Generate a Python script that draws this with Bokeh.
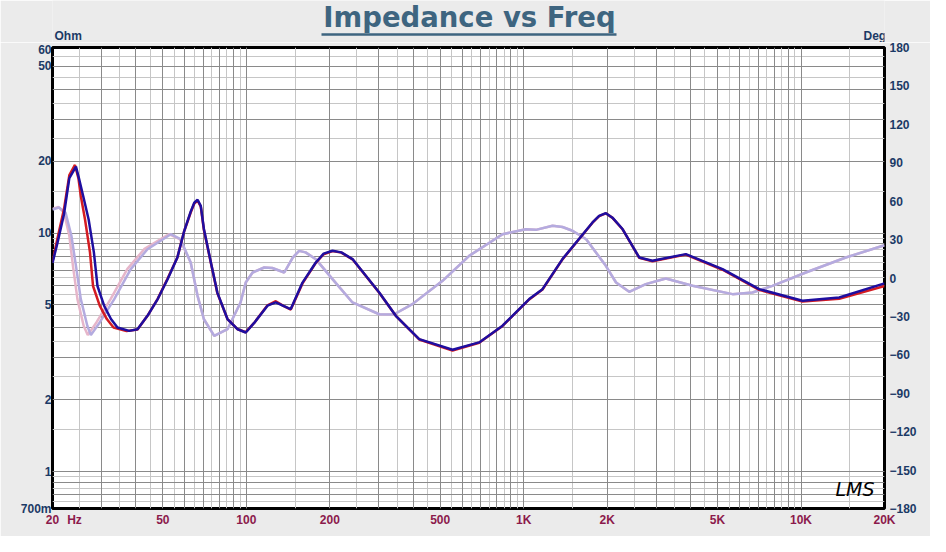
from bokeh.plotting import figure
from bokeh.layouts import column
from bokeh.models import (Range1d, LinearAxis, LinearScale, FixedTicker, Grid, Label)
from bokeh.core.properties import value
from bokeh.embed import file_html
from bokeh.resources import INLINE

# ---------------- data ----------------
x_ticks = [20, 24, 50, 100, 200, 500, 1000, 2000, 5000, 10000, 20000]
x_labels = ["20", "Hz", "50", "100", "200", "500", "1K", "2K", "5K", "10K", "20K"]
y_ticks = [0.7, 1, 2, 5, 10, 20, 50, 60]
y_labels = ["700m", "1", "2", "5", "10", "20", "50", "60"]
phase_ticks = [-180, -150, -120, -90, -60, -30, 0, 30, 60, 90, 120, 150, 180]

# impedance, measurement B (dark blue)
blue_f = [20, 20.8, 22.0, 23.0, 24.3, 24.9, 25.8, 27.0, 28.2, 29.05, 30.7, 32.5, 34.3,
          37.8, 40.5, 44.0, 47.9, 52.0, 56.4, 59.7, 63.0, 64.9, 66.7, 68.5, 70.3, 74.5,
          78.6, 85.5, 93.1, 99.5, 106.7, 119.2, 127.7, 136, 144.6, 159.4, 178, 190,
          204.5, 220, 241.4, 301.4, 345.9, 420, 553.9, 691, 839, 1047, 1169, 1380,
          1771, 1871, 1978, 2090, 2272, 2610, 2913, 3843, 5211, 7066, 10125, 13730, 20000]
blue_z = [7.5, 9.0, 12.0, 17.0, 19.0, 17.0, 14.3, 11.4, 8.3, 6.0, 4.96, 4.36, 4.02,
          3.89, 3.95, 4.5, 5.29, 6.4, 7.9, 10.2, 12.3, 13.4, 13.8, 13.0, 10.4, 7.53,
          5.63, 4.36, 3.95, 3.83, 4.2, 4.96, 5.12, 4.95, 4.8, 6.2, 7.53, 8.2,
          8.43, 8.3, 7.78, 5.63, 4.5, 3.59, 3.24, 3.48, 4.09, 5.29, 5.82, 7.78,
          11.08, 11.8, 12.12, 11.6, 10.4, 7.9, 7.65, 8.16, 7.06, 5.82, 5.2, 5.37, 6.15]

# impedance, measurement A (red)
red_f = [20, 20.8, 22.0, 23.0, 24.1, 24.8, 25.3, 26.2, 27.3, 28.0, 29.6, 31.4, 33.2,
         37.0, 40.5, 44.0, 47.9, 52.0, 56.4, 59.7, 63.0, 64.9, 66.7, 68.5, 70.3, 74.5,
         78.6, 85.5, 93.1, 99.5, 106.7, 119.2, 127.7, 136, 144.6, 159.4, 178, 190,
         204.5, 220, 241.4, 301.4, 345.9, 420, 553.9, 691, 839, 1047, 1169, 1380,
         1771, 1871, 1978, 2090, 2272, 2610, 2913, 3843, 5211, 7066, 10125, 13730, 20000]
red_z = [7.6, 9.4, 12.6, 17.5, 19.3, 17.0, 14.3, 11.4, 8.3, 6.0, 4.96, 4.36, 4.02,
         3.88, 3.94, 4.5, 5.3, 6.45, 7.9, 10.2, 12.2, 13.3, 13.7, 12.9, 10.3, 7.5,
         5.6, 4.36, 3.95, 3.84, 4.2, 4.98, 5.18, 4.95, 4.78, 6.15, 7.5, 8.15,
         8.4, 8.28, 7.76, 5.62, 4.5, 3.58, 3.22, 3.47, 4.08, 5.27, 5.8, 7.76,
         11.05, 11.78, 12.1, 11.58, 10.38, 7.88, 7.62, 8.12, 7.02, 5.78, 5.16, 5.3, 6.0]

# phase, measurement B (lavender)
lav_f = [20, 21.1, 22.3, 23.4, 24.3, 25.3, 26.7, 27.5, 29.6, 33.4, 38.3, 44.0, 53.4,
         57.9, 63.0, 66.7, 70.3, 76.6, 85.5, 95.3, 99.5, 105.3, 116, 124, 137, 147,
         155, 163.5, 178, 204.5, 241.4, 301.4, 340, 397, 510, 636, 839, 1018, 1106,
         1271, 1380, 1500, 1680, 1978, 2153, 2402, 2756, 3255, 4063, 5662, 6685, 7888,
         10406, 14505, 20000]
lav_p = [53.5, 55, 51, 33, 9.5, -16.5, -37.3, -44.6, -34.7, -16.5, 6.9, 22.5, 34.2,
         30.3, 12.1, -13.9, -32.2, -45.2, -40, -19.1, -3.5, 4.3, 8.2, 7.8, 4.3, 16,
         21.2, 20, 14.7, -0.9, -19.1, -28.3, -28.5, -20.4, -2.2, 17.3, 34.2, 38.1, 37.6,
         40.8, 39.8, 36.9, 30.3, 9.5, -3.5, -10.8, -4.8, -0.4, -6.1, -12.6, -11.3, -6.1,
         4.3, 16, 25.6]

# phase, measurement A (pink)
pink_f = [20, 21.0, 22.0, 23.0, 23.7, 24.6, 25.9, 26.8, 28.8, 32.4, 37.2, 42.8, 52.5,
          57.5, 63.0, 66.7, 70.3, 76.6, 85.5, 95.3, 99.5, 105.3, 116, 124, 137, 147,
          155, 163.5, 178, 204.5, 241.4, 301.4, 340, 397, 510, 636, 839, 1018, 1106,
          1271, 1380, 1500, 1680, 1978, 2153, 2402, 2756, 3255, 4063, 5662, 6685, 7888,
          10406, 14505, 20000]
pink_p = [54, 55.5, 51, 33, 9.5, -16.5, -37.3, -44.6, -34.7, -16.5, 6.9, 22.5, 34.2,
          30.3, 12.1, -13.9, -32.2, -45.2, -40, -19.1, -3.5, 4.3, 8.2, 7.8, 4.3, 16,
          21.2, 20, 14.7, -0.9, -19.1, -28.3, -28.5, -20.4, -2.2, 17.3, 34.2, 38.1, 37.6,
          40.8, 39.8, 36.9, 30.3, 9.5, -3.5, -10.8, -4.8, -0.4, -6.1, -12.6, -11.3, -6.1,
          4.3, 16, 25.6]

# ---------------- styling ----------------
BG = "#ebebeb"
NAVY = "#1b3a66"
MAROON = "#8b1a4b"
TITLE_C = "#3e6580"
FONT = "Liberation Sans"
W = 930
TOP_H = 42
LB, RB = 52, 46          # left / right borders shared by both parts

# ---- header strip: title, underline, unit captions ----
top = figure(frame_width=W - LB - RB, frame_height=TOP_H, title=None,
             x_range=Range1d(LB, W - RB), y_range=Range1d(0, TOP_H),
             output_backend="svg", toolbar_location=None,
             x_axis_location=None, y_axis_location=None,
             min_border_left=LB, min_border_right=RB,
             min_border_top=0, min_border_bottom=0,
             background_fill_color=BG, border_fill_color=BG, outline_line_color=None)
top.grid.visible = False
top.text(x=[469], y=[26], text=["Impedance vs Freq"], text_align="center",
         text_baseline="middle", text_font=value("DejaVu Sans"),
         text_font_style="bold", text_font_size="27.5px", text_color=TITLE_C)
top.segment(x0=[321], x1=[616], y0=[8], y1=[8], line_color=TITLE_C, line_width=2.5)
top.text(x=[54], y=[6.5], text=["Ohm"], text_align="left", text_baseline="middle",
         text_font=value(FONT), text_font_style="bold", text_font_size="12px",
         text_color=NAVY)
top.text(x=[863], y=[6.5], text=["Deg"], text_align="left", text_baseline="middle",
         text_font=value(FONT), text_font_style="bold", text_font_size="12px",
         text_color=NAVY)

# ---- main chart ----
p = figure(width=W, height=552 - 16 - TOP_H, title=None,
           x_axis_type="log", y_axis_type="log",
           x_range=Range1d(20, 20000), y_range=Range1d(0.7, 60),
           output_backend="svg", toolbar_location=None,
           min_border_left=LB, min_border_right=RB, min_border_top=5, min_border_bottom=28,
           background_fill_color="white", border_fill_color=BG)
p.outline_line_color = "black"
p.outline_line_width = 3
p.xgrid.visible = False
p.ygrid.visible = False

# grid lines (log-style: dark at integer multiples, light at halves)
x_dark, x_light = [], []
for d in [10, 100, 1000, 10000]:
    for k in range(1, 11):
        v = k * d
        if 20 < v < 20000:
            x_dark.append(v)
        h = (k + 0.5) * d
        if k < 10 and 20 < h < 20000:
            x_light.append(h)
y_dark, y_light = [], []
for d in [0.1, 1, 10]:
    for k in range(1, 11):
        v = round(k * d, 3)
        if 0.7 < v < 60:
            y_dark.append(v)
        h = round((k + 0.5) * d, 3)
        if k < 10 and 0.7 < h < 60:
            y_light.append(h)

for ticks, dim, col in [(x_light, 0, "#c6c6c6"), (y_light, 1, "#c6c6c6"),
                        (x_dark, 0, "#8a8a8a"), (y_dark, 1, "#8a8a8a")]:
    p.add_layout(Grid(dimension=dim, ticker=FixedTicker(ticks=ticks),
                      grid_line_color=col, grid_line_width=1))

def style_axis(ax, color, standoff):
    ax.axis_line_color = None
    ax.major_tick_line_color = None
    ax.minor_tick_line_color = None
    ax.major_tick_out = 0
    ax.major_tick_in = 0
    ax.minor_tick_out = 0
    ax.minor_tick_in = 0
    ax.major_label_text_font = FONT
    ax.major_label_text_font_style = "bold"
    ax.major_label_text_font_size = "12px"
    ax.major_label_text_color = color
    ax.major_label_standoff = standoff

p.xaxis.ticker = FixedTicker(ticks=x_ticks, minor_ticks=[])
p.xaxis.major_label_overrides = dict(zip(x_ticks, x_labels))
style_axis(p.xaxis[0], MAROON, 4)

p.yaxis.ticker = FixedTicker(ticks=y_ticks, minor_ticks=[])
p.yaxis.major_label_overrides = dict(zip(y_ticks, y_labels))
style_axis(p.yaxis[0], NAVY, 1)

p.extra_y_ranges = {"phase": Range1d(-180, 180)}
p.extra_y_scales = {"phase": LinearScale()}
rax = LinearAxis(y_range_name="phase", ticker=FixedTicker(ticks=phase_ticks, minor_ticks=[]))
style_axis(rax, NAVY, 5)
p.add_layout(rax, "right")

# curves
p.line(pink_f, pink_p, y_range_name="phase", line_color="#e6b6ca", line_width=2.5)
p.line(lav_f, lav_p, y_range_name="phase", line_color="#b4abdf", line_width=2.5)
p.line(red_f, red_z, line_color="#d41c22", line_width=2.5)
p.line(blue_f, blue_z, line_color="#1e0ea0", line_width=2.5)

p.add_layout(Label(x=783, y=9, x_units="screen", y_units="screen", text="LMS",
                   text_font="DejaVu Sans", text_font_style="italic", text_font_size="19px",
                   text_color="black", text_baseline="bottom"))

layout = column(top, p, spacing=0)
open("out.html", "w").write(file_html(layout, INLINE))
